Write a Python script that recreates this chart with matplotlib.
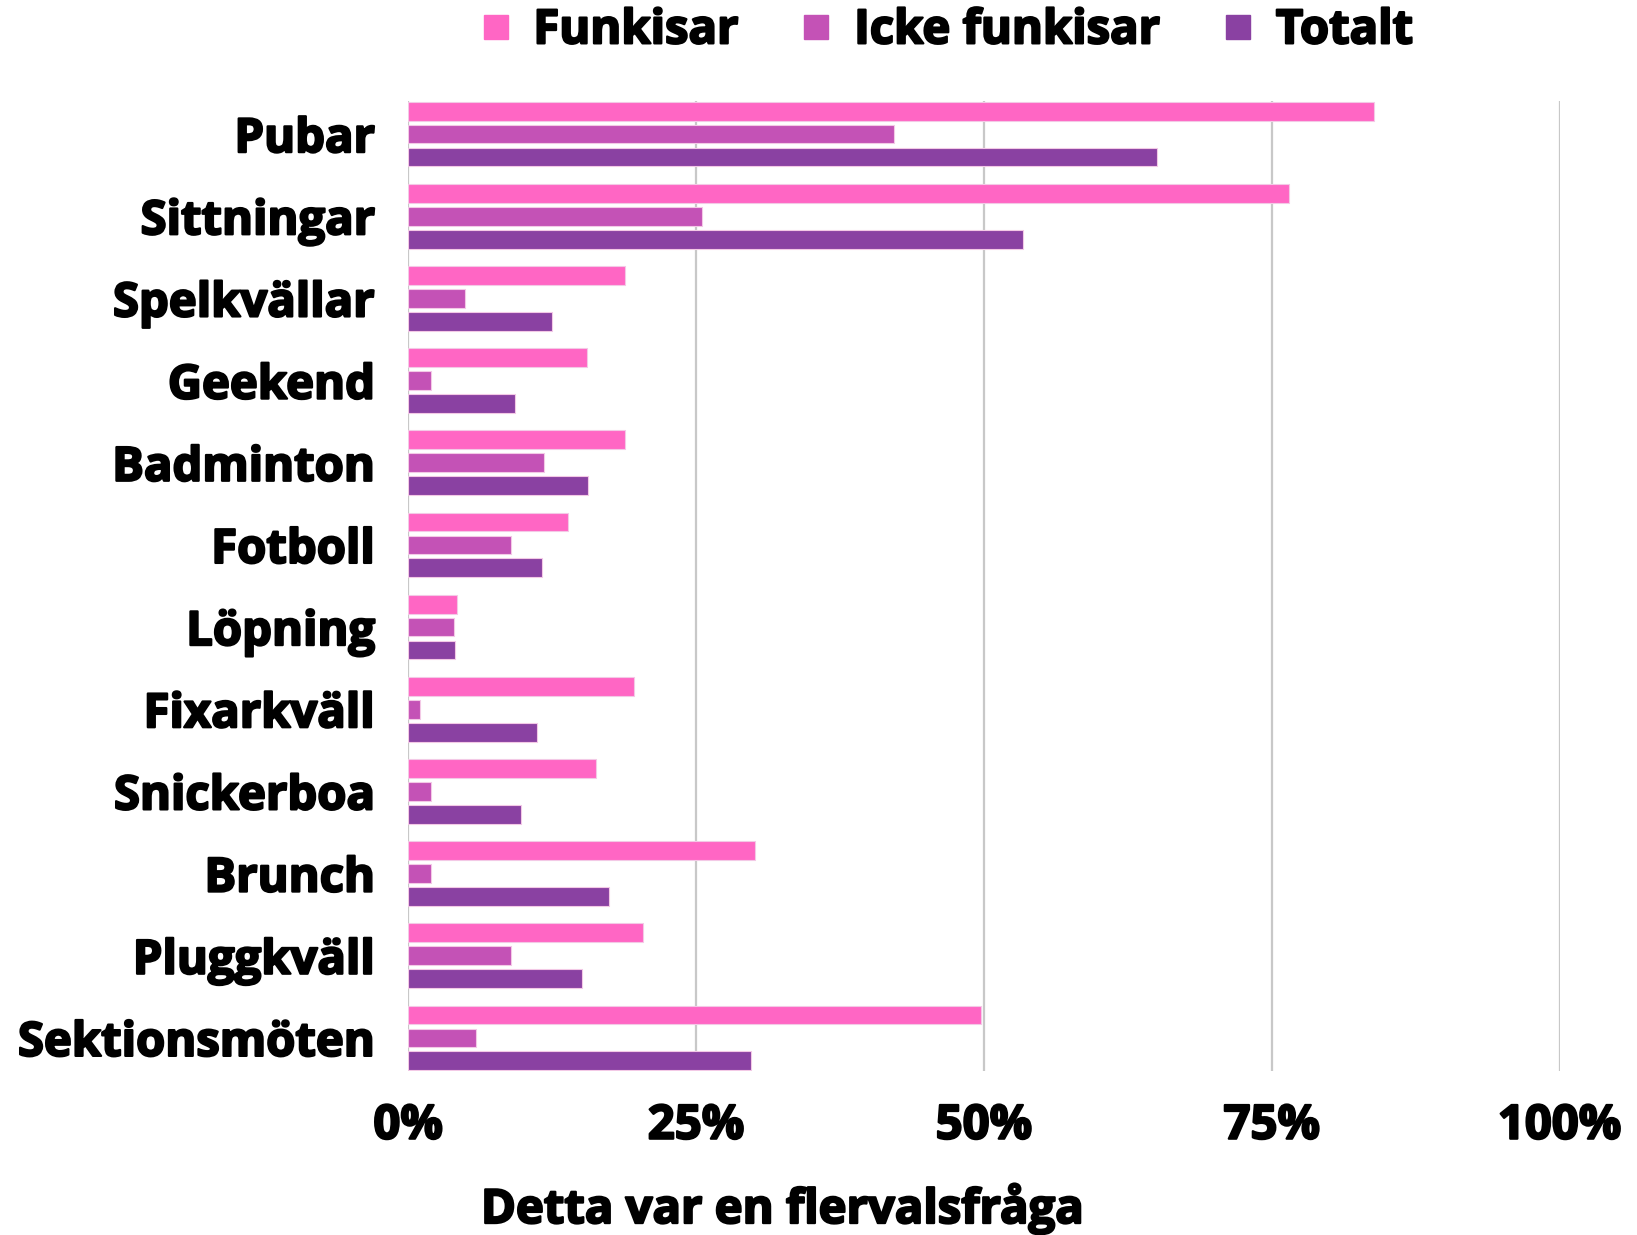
import numpy as np
import matplotlib.pyplot as plt
import matplotlib.patheffects as pe
from matplotlib.lines import Line2D

plt.rcParams['font.family'] = ['Open Sans', 'DejaVu Sans']

kategorier = ['Pubar', 'Sittningar', 'Spelkvällar', 'Geekend', 'Badminton', 'Fotboll',
              'Löpning', 'Fixarkväll', 'Snickerboa', 'Brunch', 'Pluggkväll', 'Sektionsmöten']
funkisar = [83.9, 76.5, 18.8, 15.5, 18.8, 13.9, 4.2, 19.6, 16.3, 30.1, 20.4, 49.7]
icke_funkisar = [42.2, 25.5, 4.9, 2.0, 11.8, 8.9, 4.0, 1.0, 2.0, 2.0, 8.9, 5.9]
totalt = [65.0, 53.4, 12.5, 9.3, 15.6, 11.6, 4.1, 11.2, 9.8, 17.4, 15.1, 29.8]
serier = ['Funkisar', 'Icke funkisar', 'Totalt']
farger = ['#FF66C4', '#C452B6', '#8A41A2']
xticks = [0, 25, 50, 75, 100]

# tjockare text (liknar extra bold)
tjock = [pe.withStroke(linewidth=1.6, foreground='black')]
fs = 34

fig = plt.figure(figsize=(16.37, 12.35), dpi=100)
ax = fig.add_axes([0.2494, 0.133, 0.7034, 0.785])

y = np.arange(len(kategorier))
steg = 0.279
hojd = 0.228
for k, (vals, f) in enumerate(zip([funkisar, icke_funkisar, totalt], farger)):
    ax.barh(y + (k - 1) * steg, vals, height=hojd, color=f, edgecolor='#f3c9e6',
            linewidth=0.8, zorder=3)

ax.set_xlim(0, 100)
ax.set_ylim(len(kategorier) - 1 + 0.4, -0.4)
ax.set_xticks(xticks)
ax.set_xticklabels([f'{t}%' for t in xticks])
ax.set_yticks(y)
ax.set_yticklabels(kategorier)
ax.tick_params(axis='both', length=0, labelsize=fs)
ax.tick_params(axis='y', pad=24)
ax.tick_params(axis='x', pad=23)
for lab in ax.get_xticklabels() + ax.get_yticklabels():
    lab.set_fontweight('bold')
    lab.set_path_effects(tjock)

for t in xticks:
    ax.axvline(t, color='#c8c8c8', linewidth=1.6, zorder=1)
for s in ax.spines.values():
    s.set_visible(False)

handles = [Line2D([], [], marker='s', linestyle='', markersize=17, color=f) for f in farger]
leg = fig.legend(handles, serier, loc='center', bbox_to_anchor=(0.578, 0.975), ncol=3,
                 frameon=False, handlelength=0.7, handletextpad=0.45, columnspacing=1.3,
                 prop={'size': fs, 'weight': 'bold'})
for t in leg.get_texts():
    t.set_path_effects(tjock)

fig.text(0.478, 0.021, 'Detta var en flervalsfråga', ha='center', va='center',
         fontsize=fs, fontweight='bold', path_effects=tjock)

fig.savefig('out.png', dpi=100)
